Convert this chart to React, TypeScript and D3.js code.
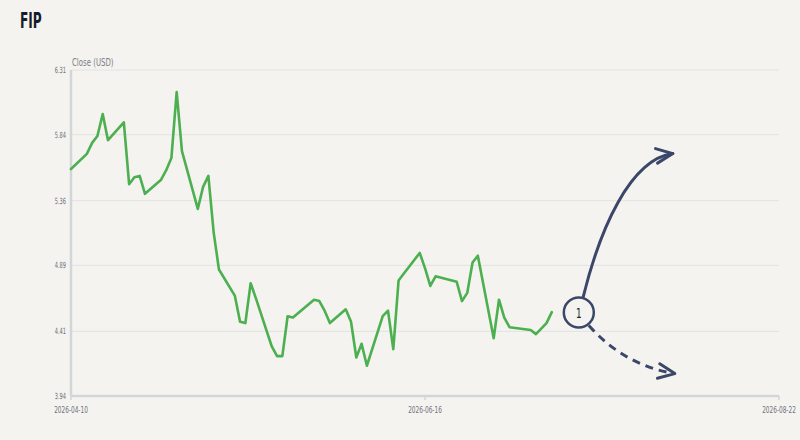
import React from "react";
import * as d3 from "d3";

const dates = [
  "2026-04-10","2026-04-13","2026-04-14","2026-04-15","2026-04-16","2026-04-17",
  "2026-04-20","2026-04-21","2026-04-22","2026-04-23","2026-04-24",
  "2026-04-27","2026-04-28","2026-04-29","2026-04-30","2026-05-01",
  "2026-05-04","2026-05-05","2026-05-06","2026-05-07","2026-05-08",
  "2026-05-11","2026-05-12","2026-05-13","2026-05-14","2026-05-15",
  "2026-05-18","2026-05-19","2026-05-20","2026-05-21","2026-05-22",
  "2026-05-26","2026-05-27","2026-05-28","2026-05-29",
  "2026-06-01","2026-06-02","2026-06-03","2026-06-04","2026-06-05",
  "2026-06-08","2026-06-09","2026-06-10","2026-06-11","2026-06-12",
  "2026-06-15","2026-06-16","2026-06-17","2026-06-18",
  "2026-06-22","2026-06-23","2026-06-24","2026-06-25","2026-06-26",
  "2026-06-29","2026-06-30","2026-07-01","2026-07-02",
  "2026-07-06","2026-07-07","2026-07-08","2026-07-09","2026-07-10",
];
const closes = [
  5.59, 5.70, 5.78, 5.83, 5.99, 5.80,
  5.93, 5.48, 5.53, 5.54, 5.41,
  5.51, 5.58, 5.67, 6.15, 5.72,
  5.30, 5.46, 5.54, 5.13, 4.86,
  4.67, 4.48, 4.47, 4.76, 4.65,
  4.30, 4.23, 4.23, 4.52, 4.51,
  4.64, 4.63, 4.56, 4.47,
  4.57, 4.48, 4.22, 4.32, 4.16,
  4.52, 4.56, 4.28, 4.78, 4.83,
  4.98, 4.87, 4.74, 4.81,
  4.77, 4.63, 4.69, 4.91, 4.96,
  4.36, 4.64, 4.51, 4.44,
  4.42, 4.39, 4.43, 4.47, 4.55,
];
const yTickLabels = ["3.94", "4.41", "4.89", "5.36", "5.84", "6.31"];
const xTickLabels = ["2026-04-10", "2026-06-16", "2026-08-22"];
const title = "FIP";
const yAxisTitle = "Close (USD)";
const annotationLabel = "1";

const W = 800, H = 440;
const left = 71, right = 779, top = 70, bottom = 396;
const parse = d3.utcParse("%Y-%m-%d");

const BG = "#f4f3ef";
const NAVY = "#3b4768";
const FONT = "'DejaVu Sans Condensed', 'DejaVu Sans', sans-serif";

const sx = (x0: number, s: number) => `translate(${x0},0) scale(${s},1) translate(${-x0},0)`;

export default function App() {
  const x = d3.scaleUtc()
    .domain([parse(xTickLabels[0])!, parse(xTickLabels[xTickLabels.length - 1])!])
    .range([left, right]);
  const y = d3.scaleLinear()
    .domain([+yTickLabels[0], +yTickLabels[yTickLabels.length - 1]])
    .range([bottom, top]);

  const data = dates.map((d, i) => ({ d: parse(d)!, v: closes[i] }));
  const line = d3.line<{ d: Date; v: number }>()
    .x((p) => x(p.d))
    .y((p) => y(p.v))
    .curve(d3.curveLinear);

  const last = data[data.length - 1];
  const cx = x(last.d) + 27;
  const cy = y(last.v) + 0.5;
  const r = 15;

  const upStart: [number, number] = [cx + 4.5, cy - 16];
  const upEnd: [number, number] = [cx + 94, cy - 159];
  const upPath = d3.path();
  upPath.moveTo(...upStart);
  upPath.bezierCurveTo(cx + 21, cy - 83, cx + 51, cy - 153, upEnd[0], upEnd[1]);

  const dnStart: [number, number] = [cx + 10, cy + 13];
  const dnEnd: [number, number] = [cx + 96, cy + 61];
  const dnPath = d3.path();
  dnPath.moveTo(...dnStart);
  dnPath.quadraticCurveTo(cx + 46, cy + 53, dnEnd[0], dnEnd[1]);

  const head = (tip: [number, number], ang: number) => {
    const L = 18, a = 0.42;
    const p1 = [tip[0] - L * Math.cos(ang - a), tip[1] - L * Math.sin(ang - a)];
    const p2 = [tip[0] - L * Math.cos(ang + a), tip[1] - L * Math.sin(ang + a)];
    return `M${p1[0]},${p1[1]}L${tip[0]},${tip[1]}L${p2[0]},${p2[1]}`;
  };

  return (
    <svg width={W} height={H} style={{ position: "absolute", left: 0, top: 0, background: BG }}>
      <rect width={W} height={H} fill={BG} />
      <text x={20} y={28} fontFamily={FONT} fontWeight="bold" fontSize={20.5} fill="#161b2b"
        transform={sx(20, 0.66)}>{title}</text>

      {yTickLabels.slice(1).map((t) => (
        <line key={"g" + t} x1={left} x2={right} y1={y(+t)} y2={y(+t)} stroke="#e2e2e2" strokeWidth={1} />
      ))}

      <line x1={left} x2={left} y1={top} y2={bottom} stroke="#d4d5d9" strokeWidth={2.5} />
      <line x1={left} x2={right} y1={bottom} y2={bottom} stroke="#d4d5d9" strokeWidth={2.5} />

      {xTickLabels.map((t) => {
        const xx = x(parse(t)!);
        return (
          <g key={"x" + t}>
            <line x1={xx} x2={xx} y1={bottom} y2={bottom + 4} stroke="#d4d5d9" strokeWidth={1.5} />
            <text x={xx} y={413} textAnchor="middle" fontFamily={FONT} fontSize={9.5} fill="#6e717b"
              transform={sx(xx, 0.68)}>{t}</text>
          </g>
        );
      })}

      {yTickLabels.map((t) => (
        <text key={"y" + t} x={66} y={y(+t) + 3} textAnchor="end" fontFamily={FONT} fontSize={8.5} fill="#6e717b"
          transform={sx(66, 0.66)}>{t}</text>
      ))}

      <text x={72} y={66} fontFamily={FONT} fontSize={10.5} fill="#7a7d86"
        transform={sx(72, 0.74)}>{yAxisTitle}</text>

      <path d={line(data) ?? ""} fill="none" stroke="#4caf50" strokeWidth={2.6} strokeLinejoin="round" strokeLinecap="round" />

      <path d={upPath.toString()} fill="none" stroke={NAVY} strokeWidth={3} strokeLinecap="round" />
      <path d={head(upEnd, Math.atan2(upEnd[1] - (cy - 153), upEnd[0] - (cx + 51)))} fill="none" stroke={NAVY} strokeWidth={3} strokeLinecap="round" strokeLinejoin="round" />

      <path d={dnPath.toString()} fill="none" stroke={NAVY} strokeWidth={3} strokeDasharray="8,6" />
      <path d={head(dnEnd, Math.atan2(dnEnd[1] - (cy + 53), dnEnd[0] - (cx + 46)))} fill="none" stroke={NAVY} strokeWidth={3} strokeLinecap="round" strokeLinejoin="round" />

      <circle cx={cx} cy={cy} r={r} fill={BG} stroke={NAVY} strokeWidth={2.5} />
      <text x={cx} y={cy + 5} textAnchor="middle" fontFamily={FONT} fontSize={14} fill="#161b2b"
        transform={sx(cx, 0.7)}>{annotationLabel}</text>
    </svg>
  );
}
